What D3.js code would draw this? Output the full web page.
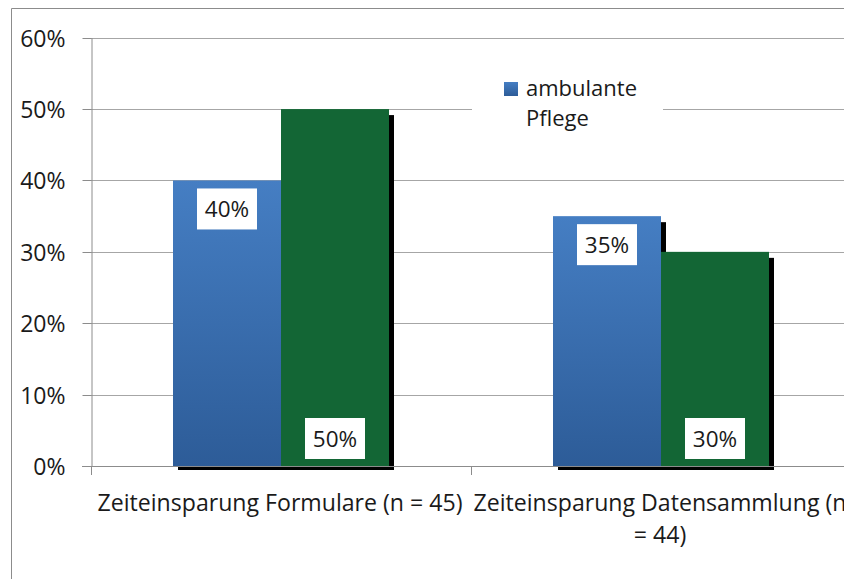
<!DOCTYPE html>
<html>
<head>
<meta charset="utf-8">
<script src="https://cdn.jsdelivr.net/npm/d3@7"></script>
<style>
  html, body { margin: 0; padding: 0; background: #fff; }
  svg { display: block; }
  text { font-family: "Open Sans", "Noto Sans", sans-serif; fill: #1a1a1a; }
</style>
</head>
<body>
<svg id="chart" width="844" height="579"></svg>
<script>
// ---- data ----
const categories = ["Zeiteinsparung Formulare (n = 45)", "Zeiteinsparung Datensammlung (n = 44)"];
const seriesNames = ["ambulante Pflege", "stationäre Pflege"];
const ambulanteValues = [0.40, 0.35];
const stationaereValues = [0.50, 0.30];
const yTickValues = [0, 0.1, 0.2, 0.3, 0.4, 0.5, 0.6];
const legendSeries = ["ambulante Pflege"];

// ---- layout ----
const W = 844, H = 579;
const plot = { left: 91, right: 851, top: 37.7, bottom: 466 };
const svg = d3.select("#chart");

const defs = svg.append("defs");
const grad = defs.append("linearGradient").attr("id", "blueGrad")
  .attr("x1", 0).attr("y1", 0).attr("x2", 0).attr("y2", 1);
grad.append("stop").attr("offset", "0%").attr("stop-color", "#457ec3");
grad.append("stop").attr("offset", "100%").attr("stop-color", "#2d5c98");

const colors = ["url(#blueGrad)", "#136635"];
const seriesValues = [ambulanteValues, stationaereValues];

const y = d3.scaleLinear().domain([0, 0.6]).range([plot.bottom, plot.top]);
const pInner = 0.4316;
const x0 = d3.scaleBand().domain(categories).range([plot.left, plot.right])
  .paddingInner(pInner).paddingOuter(pInner / 2);
const x1 = d3.scaleBand().domain(seriesNames).range([0, x0.bandwidth()]).padding(0);

// outer frame
svg.append("line").attr("x1", 11.5).attr("x2", 11.5).attr("y1", 8.5).attr("y2", H)
  .attr("stroke", "#8c8c8c").attr("stroke-width", 1);
svg.append("line").attr("x1", 11.5).attr("x2", W).attr("y1", 8.5).attr("y2", 8.5)
  .attr("stroke", "#8c8c8c").attr("stroke-width", 1);

// gridlines
svg.append("g").selectAll("line").data(yTickValues.filter(d => d > 0)).join("line")
  .attr("x1", plot.left).attr("x2", W)
  .attr("y1", d => Math.round(y(d)) + 0.5).attr("y2", d => Math.round(y(d)) + 0.5)
  .attr("stroke", "#a6a6a6").attr("stroke-width", 1);

// bars data
const barData = [];
categories.forEach((c, i) => {
  seriesNames.forEach((s, j) => {
    barData.push({ cat: c, ser: s, j, v: seriesValues[j][i] });
  });
});

// shadows
svg.append("g").selectAll("rect").data(barData).join("rect")
  .attr("x", d => x0(d.cat) + x1(d.ser) + 5)
  .attr("y", d => y(d.v) + 6)
  .attr("width", x1.bandwidth())
  .attr("height", d => y(0) - y(d.v) - 2)
  .attr("fill", "#000");

// bars
svg.append("g").selectAll("rect").data(barData).join("rect")
  .attr("x", d => x0(d.cat) + x1(d.ser))
  .attr("y", d => y(d.v))
  .attr("width", x1.bandwidth())
  .attr("height", d => y(0) - y(d.v))
  .attr("fill", d => colors[d.j]);

// axes
const axisColor = "#8c8c8c";
const yAxis = svg.append("g").attr("transform", `translate(${plot.left + 0.5},0)`)
  .call(d3.axisLeft(y).tickValues(yTickValues).tickSize(9).tickSizeOuter(0)
    .tickFormat(d3.format(".0%")));
yAxis.select(".domain").attr("stroke", axisColor);
yAxis.selectAll(".tick line").attr("stroke", axisColor);
yAxis.selectAll(".tick text").attr("x", -26).attr("dy", "0.36em")
  .style("font-size", "23px").style("font-family", "'Open Sans', sans-serif").attr("fill", "#1a1a1a");
yAxis.selectAll(".tick").attr("transform", d => `translate(0,${Math.round(y(d)) + 0.5})`);

// x axis line + boundary ticks
svg.append("line").attr("x1", plot.left - 9).attr("x2", W)
  .attr("y1", plot.bottom + 0.5).attr("y2", plot.bottom + 0.5).attr("stroke", axisColor);
const gap = (x0.step() - x0.bandwidth()) / 2;
const boundaries = categories.map(c => x0(c) - gap).concat([x0(categories[categories.length - 1]) - gap + x0.step()]);
svg.append("g").selectAll("line").data(boundaries).join("line")
  .attr("x1", d => Math.round(d) + 0.5).attr("x2", d => Math.round(d) + 0.5)
  .attr("y1", plot.bottom).attr("y2", plot.bottom + 9).attr("stroke", axisColor);

// value labels
const labelG = svg.append("g");
barData.forEach(d => {
  const cx = x0(d.cat) + x1(d.ser) + x1.bandwidth() / 2;
  const bw = 60, bh = 41;
  const top = d.j === 0 ? y(d.v) + 8 : y(0) - 48;
  labelG.append("rect").attr("x", cx - bw / 2).attr("y", top).attr("width", bw).attr("height", bh)
    .attr("fill", "#fff");
  labelG.append("text").attr("x", cx).attr("y", top + bh / 2).attr("dy", "0.36em")
    .attr("text-anchor", "middle").style("font-size", "22.5px")
    .text(d3.format(".0%")(d.v));
});

// x category labels (wrapped, condensed)
const xFont = 24;
const xg = svg.append("g");
const probe = xg.append("text").style("font-size", xFont + "px").text(categories[0]);
const natural = probe.node().getComputedTextLength();
probe.remove();
const squeeze = 365 / natural;
categories.forEach(c => {
  const cx = x0(c) + x0.bandwidth() / 2;
  const words = c.split(" ");
  const lines = [];
  let cur = [];
  const t = xg.append("text").style("font-size", xFont + "px");
  words.forEach(w => {
    const trial = cur.concat([w]).join(" ");
    t.text(trial);
    if (t.node().getComputedTextLength() * squeeze > x0.step() && cur.length) {
      lines.push(cur.join(" "));
      cur = [w];
    } else cur.push(w);
  });
  lines.push(cur.join(" "));
  t.remove();
  lines.forEach((ln, i) => {
    const tt = xg.append("text").style("font-size", xFont + "px")
      .attr("text-anchor", "middle").attr("x", cx - 1).attr("y", 511 + i * 32).text(ln);
    const nat = tt.node().getComputedTextLength();
    tt.attr("textLength", nat * squeeze).attr("lengthAdjust", "spacingAndGlyphs");
  });
});

// legend
const lg = svg.append("g");
lg.append("rect").attr("x", 472).attr("y", 68).attr("width", 191).attr("height", 74).attr("fill", "#fff");
legendSeries.forEach((s, i) => {
  const j = seriesNames.indexOf(s);
  lg.append("rect").attr("x", 504).attr("y", 82).attr("width", 14).attr("height", 14)
    .attr("fill", colors[j]);
  const words = s.split(" ");
  const txt = lg.append("text").style("font-size", "22px");
  words.forEach((w, k) => {
    txt.append("tspan").attr("x", 526).attr("y", 96 + k * 30).text(w);
  });
});
</script>
</body>
</html>
